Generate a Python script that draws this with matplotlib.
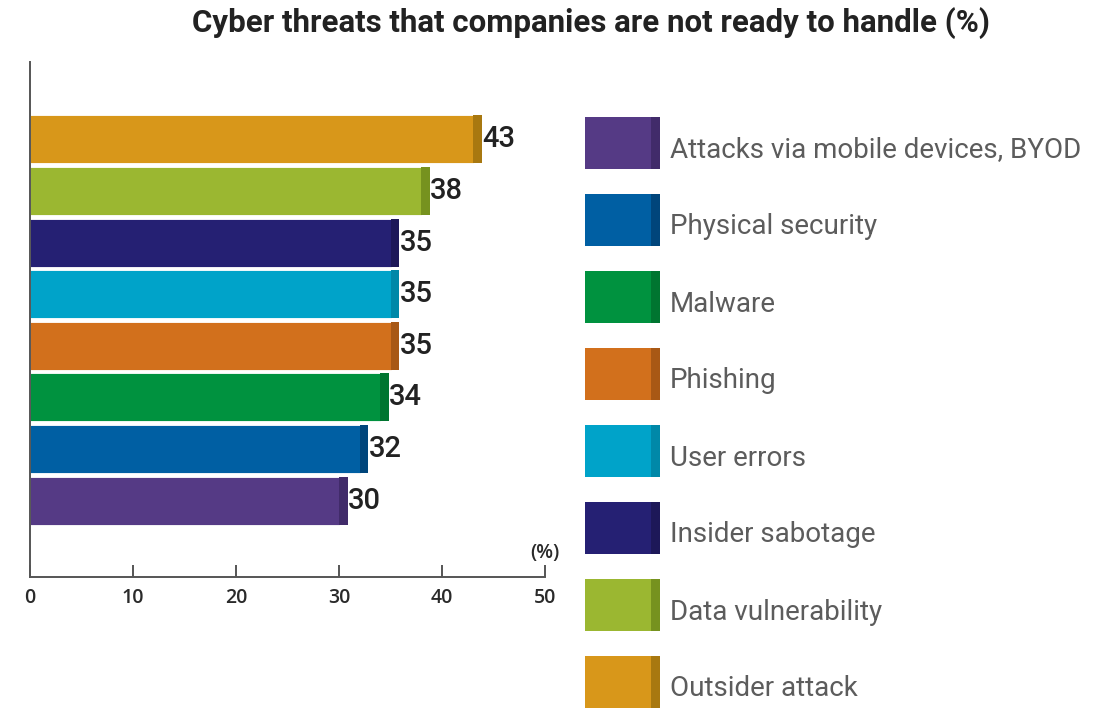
import numpy as np
import matplotlib.pyplot as plt
from matplotlib.patches import Rectangle

# categories listed from bottom bar to top bar
threats = ["Attacks via mobile devices, BYOD", "Physical security", "Malware",
           "Phishing", "User errors", "Insider sabotage", "Data vulnerability",
           "Outsider attack"]
percent = [30, 32, 34, 35, 35, 35, 38, 43]
colors = ["#553a85", "#005fa3", "#00923f", "#d2701c", "#00a3c9", "#252073",
          "#9bb731", "#d8971a"]
edge_colors = ["#412b6a", "#00457b", "#007530", "#a85815", "#0088a8", "#1d1858",
               "#76921f", "#a87810"]
x_ticks = [0, 10, 20, 30, 40, 50]

plt.rcParams['font.family'] = ['Roboto', 'DejaVu Sans']

fig = plt.figure(figsize=(11.07, 7.14), dpi=100)
ax = fig.add_axes([30 / 1107, 1 - 577 / 714, 515 / 1107, 515 / 714])

y = np.arange(len(threats))
cap = 0.85
ax.barh(y, percent, height=0.93, color=colors, edgecolor='white', linewidth=0.6)
# darker end cap on each bar
ax.barh(y, [cap] * len(y), left=percent, height=0.93, color=edge_colors,
        edgecolor='none')

for yi, v in zip(y, percent):
    ax.text(v + cap + 0.02, yi, str(v), va='center', ha='left', fontsize=21,
            fontweight='medium', color='#222222')

ax.set_xlim(0, 50)
ax.set_ylim(-1.48, 8.5)
ax.set_xticks(x_ticks)
ax.set_yticks([])
for s in ['top', 'right']:
    ax.spines[s].set_visible(False)
for s in ['left', 'bottom']:
    ax.spines[s].set_color('#555555')
    ax.spines[s].set_linewidth(1.4)
ax.tick_params(axis='x', direction='in', length=9, width=1.4, color='#555555',
               labelsize=14, labelcolor='#2a2a2a', pad=8)
for lbl in ax.get_xticklabels():
    lbl.set_fontfamily(['Open Sans', 'DejaVu Sans'])
    lbl.set_fontweight('semibold')
ax.text(50, -1.02, "(%)", ha='center', va='center', fontsize=14,
        color='#2a2a2a', fontweight='semibold', family=['Open Sans', 'DejaVu Sans'])

fig.text(591 / 1107, 1 - 23 / 714,
         "Cyber threats that companies are not ready to handle (%)",
         ha='center', va='center', fontsize=22.5, fontweight='bold',
         color='#222222')

# legend swatches, top to bottom in category order
for i, (name, c, ec) in enumerate(zip(threats, colors, edge_colors)):
    yc = 143 + i * 77.0
    fig.patches.append(Rectangle((585 / 1107, 1 - (yc + 26) / 714), 66 / 1107,
                                 52 / 714, transform=fig.transFigure,
                                 facecolor=c, edgecolor='none'))
    fig.patches.append(Rectangle((651 / 1107, 1 - (yc + 26) / 714), 9 / 1107,
                                 52 / 714, transform=fig.transFigure,
                                 facecolor=ec, edgecolor='none'))
    fig.text(670 / 1107, 1 - (yc + 7) / 714, name, ha='left', va='center',
             fontsize=20, color='#5c5c5c')

fig.savefig("out.png", dpi=100)
